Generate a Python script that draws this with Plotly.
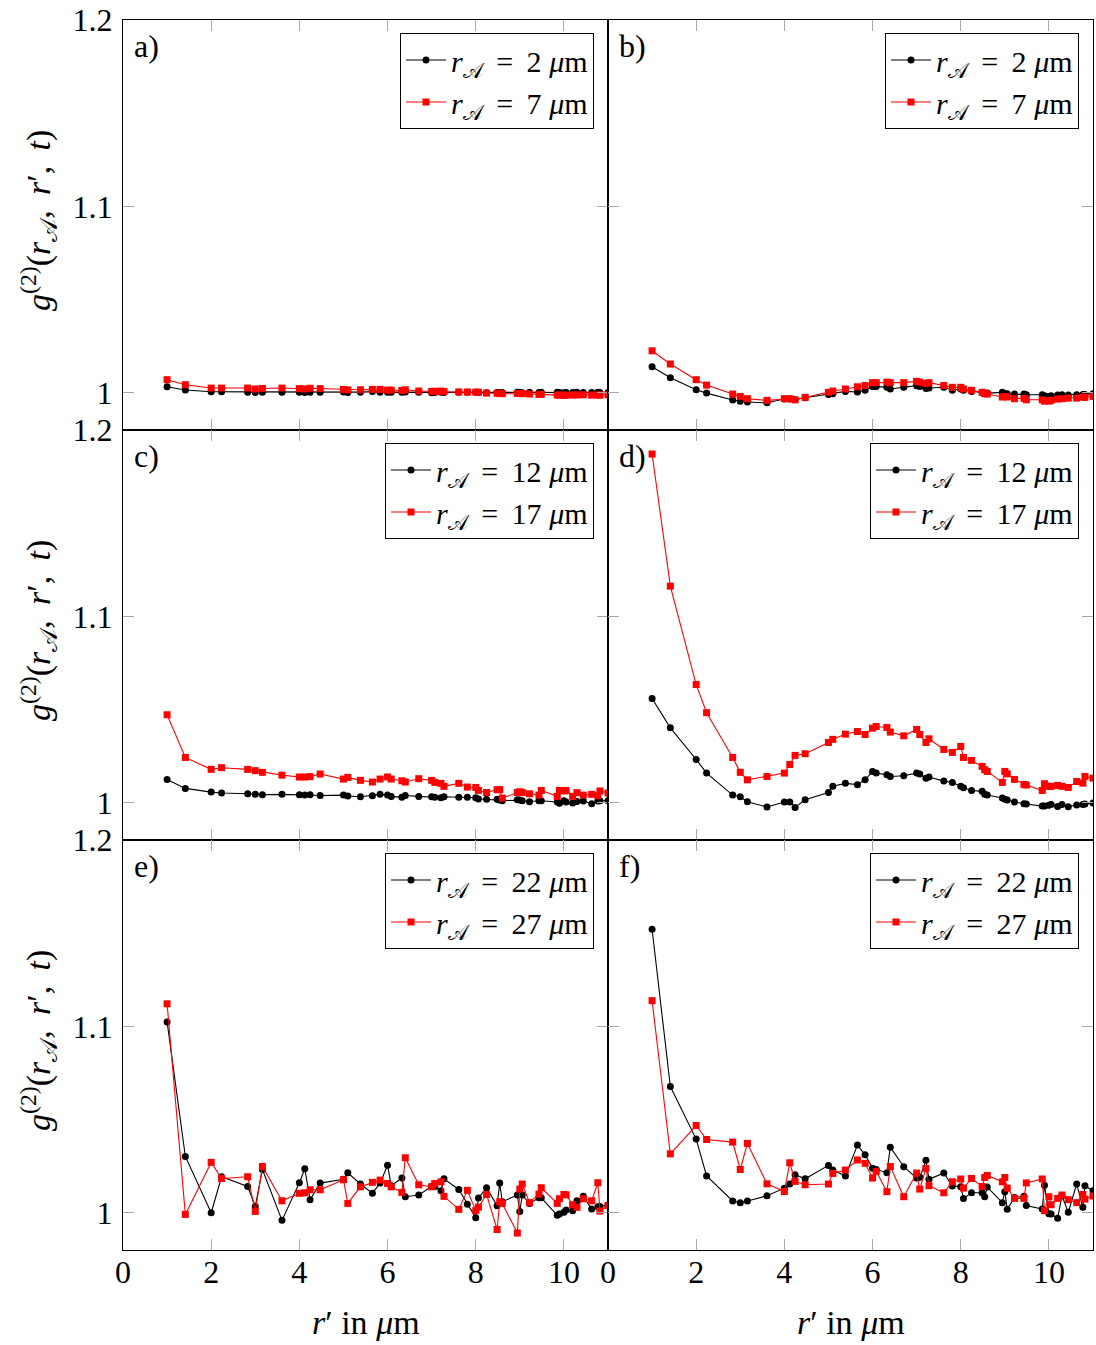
import plotly.graph_objects as go

# r' grid (µm)
r = [1.000, 1.414, 2.000, 2.236, 2.828, 3.000, 3.162, 3.606, 4.000, 4.123,
     4.243, 4.472, 5.000, 5.099, 5.385, 5.657, 5.831, 6.000, 6.083, 6.325,
     6.403, 6.708, 7.000, 7.071, 7.211, 7.280, 7.616, 7.810, 8.000, 8.062,
     8.246, 8.485, 8.544, 8.602, 8.944, 9.000, 9.055, 9.220, 9.434, 9.487,
     9.849, 9.899, 10.000, 10.050, 10.198, 10.296, 10.440, 10.630, 10.770, 10.817,
     11.000]

a_black = [1.0032, 1.0015, 1.0005, 1.0005, 1.0003, 1.0001, 1.0002, 1.0002, 1.0002, 1.0001,
           1.0003, 1.0002, 1.0004, 1.0001, 1.0003, 1.0006, 1.0002, 1.0002, 1.0003, 1.0003,
           1.0004, 1.0002, 1.0000, 1.0001, 1.0002, 1.0001, 1.0002, 1.0002, 1.0002, 1.0001,
           1.0000, 1.0001, 1.0000, 1.0001, 1.0002, 1.0002, 1.0000, 1.0002, 1.0001, 1.0003,
           1.0002, 1.0001, 1.0000, 1.0001, 1.0001, 1.0002, 1.0001, 1.0001, 1.0002, 1.0001,
           1.0001]
a_red = [1.0070, 1.0043, 1.0025, 1.0025, 1.0025, 1.0020, 1.0023, 1.0025, 1.0022, 1.0020,
         1.0024, 1.0022, 1.0018, 1.0015, 1.0016, 1.0018, 1.0018, 1.0014, 1.0014, 1.0012,
         1.0016, 1.0009, 1.0007, 1.0008, 1.0009, 1.0006, 1.0004, 1.0004, 1.0003, 1.0003,
         0.9998, 0.9997, 0.9996, 0.9995, 0.9996, 0.9996, 0.9995, 0.9993, 0.9991, 0.9991,
         0.9988, 0.9987, 0.9986, 0.9987, 0.9988, 0.9988, 0.9989, 0.9987, 0.9988, 0.9987,
         0.9989]

b_black = [1.0139, 1.0080, 1.0016, 0.9998, 0.9961, 0.9954, 0.9950, 0.9946, 0.9966, 0.9966,
           0.9962, 0.9973, 0.9991, 0.9995, 1.0007, 1.0004, 1.0013, 1.0034, 1.0034, 1.0030,
           1.0020, 1.0029, 1.0038, 1.0034, 1.0023, 1.0025, 1.0029, 1.0013, 1.0020, 1.0013,
           1.0007, 1.0002, 0.9998, 0.9998, 1.0002, 0.9995, 0.9995, 0.9993, 0.9993, 0.9989,
           0.9989, 0.9984, 0.9980, 0.9984, 0.9988, 0.9989, 0.9988, 0.9989, 0.9991, 0.9991,
           0.9995]
b_red = [1.0225, 1.0154, 1.0070, 1.0041, 0.9993, 0.9980, 0.9968, 0.9959, 0.9968, 0.9968,
         0.9962, 0.9975, 1.0002, 1.0009, 1.0020, 1.0032, 1.0039, 1.0054, 1.0054, 1.0057,
         1.0054, 1.0054, 1.0061, 1.0057, 1.0050, 1.0054, 1.0039, 1.0029, 1.0029, 1.0020,
         1.0013, 1.0002, 0.9995, 0.9993, 0.9977, 0.9980, 0.9977, 0.9968, 0.9970, 0.9962,
         0.9962, 0.9955, 0.9955, 0.9959, 0.9966, 0.9968, 0.9971, 0.9971, 0.9977, 0.9975,
         0.9980]

c_black = [1.0125, 1.0077, 1.0057, 1.0052, 1.0048, 1.0045, 1.0043, 1.0045, 1.0043, 1.0041,
           1.0043, 1.0039, 1.0041, 1.0036, 1.0032, 1.0038, 1.0045, 1.0041, 1.0034, 1.0029,
           1.0039, 1.0034, 1.0032, 1.0030, 1.0027, 1.0032, 1.0029, 1.0029, 1.0027, 1.0020,
           1.0018, 1.0018, 1.0014, 1.0011, 1.0016, 1.0014, 1.0011, 1.0005, 1.0011, 1.0011,
           1.0004, 0.9997, 1.0011, 1.0004, 0.9998, 1.0007, 1.0009, 0.9995, 1.0009, 1.0011,
           1.0011]
c_red = [1.0472, 1.0243, 1.0179, 1.0188, 1.0179, 1.0172, 1.0163, 1.0148, 1.0138, 1.0138,
         1.0140, 1.0154, 1.0127, 1.0136, 1.0120, 1.0111, 1.0127, 1.0138, 1.0127, 1.0118,
         1.0111, 1.0129, 1.0120, 1.0109, 1.0104, 1.0088, 1.0104, 1.0084, 1.0082, 1.0066,
         1.0055, 1.0070, 1.0070, 1.0025, 1.0055, 1.0059, 1.0055, 1.0048, 1.0041, 1.0066,
         1.0034, 1.0066, 1.0063, 1.0066, 1.0034, 1.0054, 1.0041, 1.0045, 1.0038, 1.0063,
         1.0052]

d_black = [1.0559, 1.0402, 1.0232, 1.0159, 1.0041, 1.0032, 1.0005, 0.9977, 1.0004, 1.0004,
           0.9975, 1.0016, 1.0055, 1.0088, 1.0104, 1.0097, 1.0123, 1.0168, 1.0159, 1.0150,
           1.0141, 1.0145, 1.0159, 1.0154, 1.0132, 1.0138, 1.0116, 1.0109, 1.0088, 1.0080,
           1.0066, 1.0061, 1.0046, 1.0041, 1.0025, 1.0018, 1.0014, 1.0004, 0.9995, 0.9993,
           0.9982, 0.9982, 0.9986, 0.9991, 0.9980, 0.9991, 0.9979, 0.9988, 0.9991, 0.9993,
           0.9998]
d_red = [1.1871, 1.1162, 1.0634, 1.0483, 1.0243, 1.0163, 1.0123, 1.0141, 1.0159, 1.0205,
         1.0254, 1.0263, 1.0323, 1.0340, 1.0368, 1.0382, 1.0366, 1.0400, 1.0409, 1.0404,
         1.0379, 1.0359, 1.0393, 1.0366, 1.0323, 1.0343, 1.0286, 1.0270, 1.0302, 1.0243,
         1.0227, 1.0195, 1.0177, 1.0168, 1.0109, 1.0168, 1.0155, 1.0125, 1.0098, 1.0095,
         1.0066, 1.0102, 1.0088, 1.0088, 1.0093, 1.0088, 1.0082, 1.0114, 1.0105, 1.0141,
         1.0132]

e_black = [1.1024, 1.0302, 1.0000, 1.0193, 1.0141, 1.0034, 1.0232, 0.9959, 1.0161, 1.0236,
           1.0070, 1.0159, 1.0180, 1.0214, 1.0154, 1.0105, 1.0159, 1.0255, 1.0145, 1.0186,
           1.0086, 1.0095, 1.0141, 1.0141, 1.0118, 1.0182, 1.0125, 1.0046, 0.9973, 1.0079,
           1.0134, 1.0038, 1.0159, 1.0059, 1.0095, 1.0007, 1.0095, 1.0050, 1.0080, 1.0080,
           0.9986, 0.9993, 1.0002, 1.0014, 1.0011, 1.0064, 1.0088, 1.0020, 1.0032, 1.0034,
           1.0041]
e_red = [1.1121, 0.9991, 1.0270, 1.0184, 1.0193, 1.0007, 1.0248, 1.0064, 1.0104, 1.0107,
         1.0123, 1.0123, 1.0177, 1.0050, 1.0139, 1.0163, 1.0175, 1.0157, 1.0139, 1.0109,
         1.0295, 1.0150, 1.0139, 1.0157, 1.0166, 1.0088, 1.0018, 1.0120, 1.0011, 1.0030,
         1.0098, 0.9910, 1.0059, 1.0050, 0.9891, 1.0127, 1.0154, 1.0054, 1.0100, 1.0134,
         1.0050, 1.0075, 1.0098, 1.0096, 1.0043, 1.0029, 1.0075, 1.0064, 1.0161, 1.0009,
         1.0038]

f_black = [1.1521, 1.0677, 1.0395, 1.0197, 1.0063, 1.0054, 1.0063, 1.0091, 1.0132, 1.0154,
           1.0204, 1.0182, 1.0254, 1.0229, 1.0197, 1.0363, 1.0311, 1.0238, 1.0232, 1.0215,
           1.0352, 1.0247, 1.0186, 1.0190, 1.0281, 1.0179, 1.0213, 1.0143, 1.0140, 1.0077,
           1.0107, 1.0107, 1.0086, 1.0138, 1.0054, 1.0113, 1.0018, 1.0082, 1.0088, 1.0039,
           1.0020, 1.0148, 0.9995, 0.9993, 0.9971, 1.0091, 1.0002, 1.0154, 1.0029, 1.0145,
           1.0118]
f_red = [1.1138, 1.0316, 1.0468, 1.0393, 1.0379, 1.0232, 1.0372, 1.0155, 1.0114, 1.0268,
         1.0168, 1.0150, 1.0154, 1.0211, 1.0229, 1.0283, 1.0265, 1.0186, 1.0222, 1.0113,
         1.0248, 1.0086, 1.0213, 1.0127, 1.0238, 1.0145, 1.0107, 1.0166, 1.0181, 1.0132,
         1.0184, 1.0141, 1.0189, 1.0200, 1.0166, 1.0189, 1.0132, 1.0077, 1.0077, 1.0160,
         1.0181, 1.0011, 1.0086, 1.0043, 1.0077, 1.0095, 1.0070, 1.0054, 1.0098, 1.0073,
         1.0090]

panel_labels = ["a)", "b)", "c)", "d)", "e)", "f)"]
rA_black = ["2", "2", "12", "12", "22", "22"]
rA_red = ["7", "7", "17", "17", "27", "27"]
black_sets = [a_black, b_black, c_black, d_black, e_black, f_black]
red_sets = [a_red, b_red, c_red, d_red, e_red, f_red]

x_ticks = [0, 2, 4, 6, 8, 10]
y_ticks = [1, 1.1, 1.2]
y_ticktext = ["1", "1.1", "1.2"]

W, H = 1096, 1345
COLS = [(123, 608), (608, 1093)]
ROWS = [(20, 430), (430, 840), (840, 1250)]
FONT = "Liberation Serif"
FS = 32
LFS = 30
TS = "\u2009"  # thin space

fig = go.Figure()
annotations = []
layout = dict(
    width=W, height=H, autosize=False,
    margin=dict(l=0, r=0, t=0, b=0, pad=0, autoexpand=False),
    paper_bgcolor="white", plot_bgcolor="white",
    font=dict(family=FONT, size=FS, color="black"),
)


def lab(n):
    return "<i>r</i><sub>𝒜</sub> " + TS + "=" + TS + " " + n + " <i>μ</i>m"


for i in range(6):
    row, col = divmod(i, 2)
    k = i + 1
    xa = "x" if k == 1 else f"x{k}"
    ya = "y" if k == 1 else f"y{k}"
    lg = "legend" if k == 1 else f"legend{k}"
    fig.add_trace(go.Scatter(
        x=r, y=black_sets[i], mode="lines+markers", name=lab(rA_black[i]),
        line=dict(color="black", width=1.1),
        marker=dict(symbol="circle", size=7, color="black"),
        xaxis=xa, yaxis=ya, legend=lg))
    fig.add_trace(go.Scatter(
        x=r, y=red_sets[i], mode="lines+markers", name=lab(rA_red[i]),
        line=dict(color="#ff0000", width=1.1),
        marker=dict(symbol="square", size=7, color="#ff0000"),
        xaxis=xa, yaxis=ya, legend=lg))

    x0, x1 = COLS[col]
    top, bot = ROWS[row]
    axkey_x = "xaxis" if k == 1 else f"xaxis{k}"
    axkey_y = "yaxis" if k == 1 else f"yaxis{k}"
    layout[axkey_x] = dict(
        domain=[x0 / W, x1 / W], range=[0, 11], anchor=ya,
        tickvals=x_ticks, ticks="inside", ticklen=11, tickcolor="#a8a8a8", tickwidth=1.2,
        showline=True, linecolor="black", linewidth=1.3, mirror="ticks",
        showgrid=False, zeroline=False, showticklabels=(row == 2),
        tickfont=dict(family=FONT, size=FS), ticklabelstandoff=-7, automargin=False,
    )
    layout[axkey_y] = dict(
        domain=[1 - bot / H, 1 - top / H], range=[0.98, 1.2], anchor=xa,
        tickvals=y_ticks, ticktext=y_ticktext,
        ticks="inside", ticklen=11, tickcolor="#a8a8a8", tickwidth=1.2,
        showline=True, linecolor="black", linewidth=1.3, mirror="ticks",
        showgrid=False, zeroline=False, showticklabels=(col == 0),
        tickfont=dict(family=FONT, size=FS), ticklabelstandoff=3, automargin=False,
    )
    layout[lg] = dict(
        x=(x1 - 14) / W, y=1 - (top + 13) / H, xanchor="right", yanchor="top",
        xref="paper", yref="paper",
        bgcolor="white", bordercolor="black", borderwidth=1,
        font=dict(family=FONT, size=LFS, color="black"),
        tracegroupgap=0, itemwidth=40,
    )
    annotations.append(dict(
        text=panel_labels[i], xref="paper", yref="paper",
        x=(x0 + 9) / W, y=1 - (top + 6) / H, xanchor="left", yanchor="top",
        showarrow=False, font=dict(family=FONT, size=FS)))

    if col == 0:
        annotations.append(dict(
            text="<i>g</i><sup>(2)</sup>(<i>r</i><sub>𝒜</sub>," + TS + " <i>r</i>′," + TS + " <i>t</i>)",
            xref="paper", yref="paper", x=38 / W, y=1 - ((top + bot) / 2 - 4) / H,
            xanchor="center", yanchor="middle", textangle=-90,
            showarrow=False, font=dict(family=FONT, size=34)))
    if row == 2:
        annotations.append(dict(
            text="<i>r</i>′ in <i>μ</i>m", xref="paper", yref="paper",
            x=((x0 + x1) / 2) / W, y=1 - 1322 / H, xanchor="center", yanchor="middle",
            showarrow=False, font=dict(family=FONT, size=34)))

layout["annotations"] = annotations
fig.update_layout(**layout)
fig.write_html("out.html", config={"displayModeBar": False},
               post_script="document.body.style.margin='0px';")
